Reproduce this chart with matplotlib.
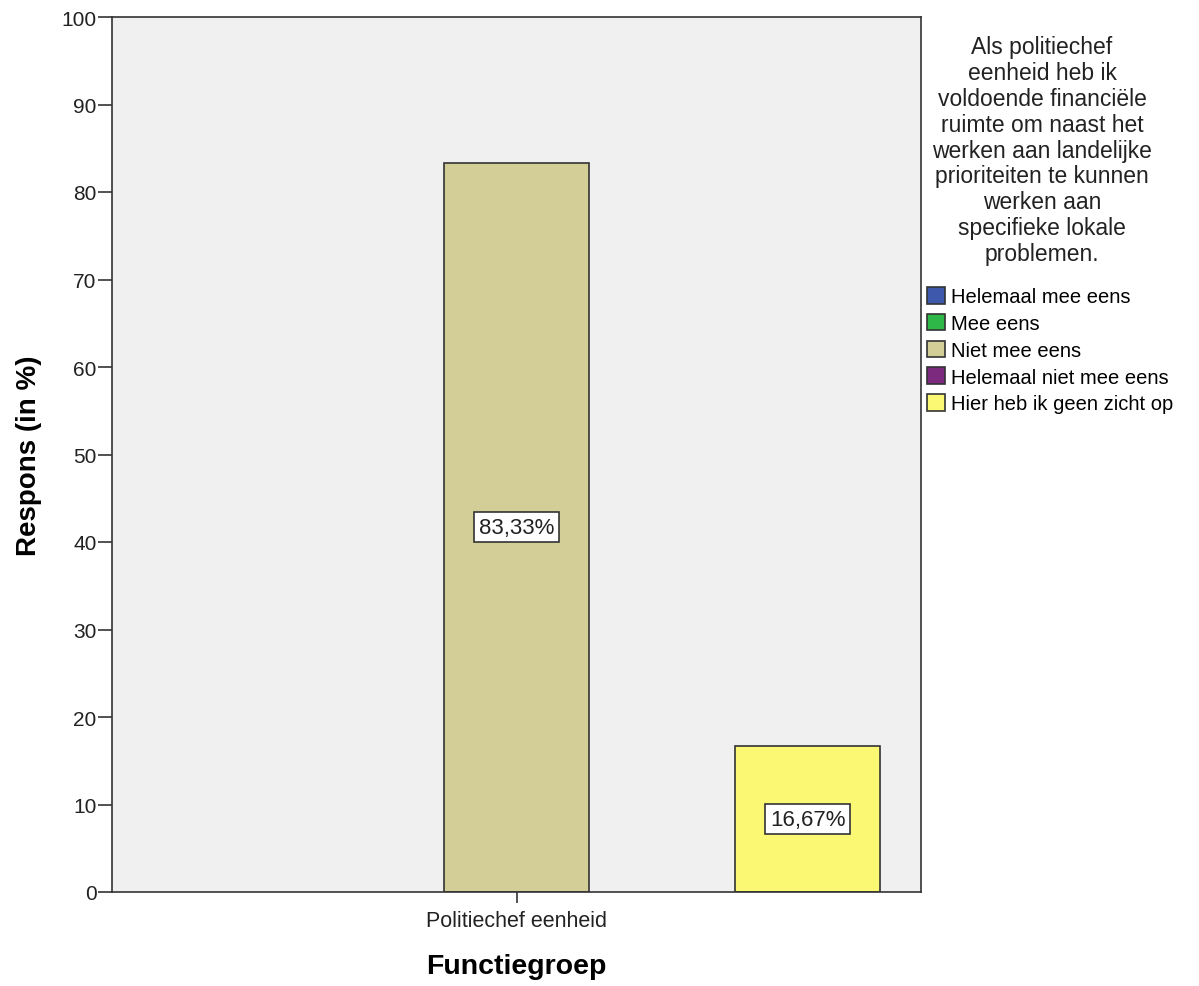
import matplotlib.pyplot as plt
from matplotlib.patches import Patch

plt.rcParams['font.family'] = ['Liberation Sans', 'DejaVu Sans']

categories = ['Helemaal mee eens', 'Mee eens', 'Niet mee eens',
              'Helemaal niet mee eens', 'Hier heb ik geen zicht op']
values = [0, 0, 83.33, 0, 16.67]
colors = ['#3E58AC', '#2EB848', '#D3CE97', '#7B2A7E', '#FBF873']
group = 'Politiechef eenheid'
legend_title = ('Als politiechef\neenheid heb ik\nvoldoende financiële\nruimte om naast het\n'
                'werken aan landelijke\nprioriteiten te kunnen\nwerken aan\nspecifieke lokale\nproblemen.')

fig = plt.figure(figsize=(11.99, 9.87), dpi=100)
ax = fig.add_axes([112 / 1199, 1 - 893 / 987, (921 - 112) / 1199, (893 - 18) / 987])
ax.set_facecolor('#F0F0F0')

offsets = [-2, -1, 0, 1, 2]
for off, v, c in zip(offsets, values, colors):
    if v <= 0:
        continue
    ax.bar(off, v, width=1.0, color=c, edgecolor='#333333', linewidth=1.2, zorder=2)
    ax.text(off, v / 2, f'{v:.2f}'.replace('.', ',') + '%', ha='center', va='center',
            fontsize=16, zorder=3, color='#222222',
            bbox=dict(boxstyle='square,pad=0.2', facecolor='white', edgecolor='#333333', linewidth=1.2))

ax.set_xlim(-2.78, 2.78)
ax.set_ylim(0, 100)
ax.set_yticks(range(0, 101, 10))
ax.set_xticks([0])
ax.set_xticklabels([group])
ax.tick_params(axis='both', labelsize=15, length=10, width=1.2, color='#333333',
               labelcolor='#222222', pad=1)
ax.tick_params(axis='x', labelsize=15.5, length=8, pad=5)
for s in ax.spines.values():
    s.set_color('#333333')
    s.set_linewidth(1.2)

ax.set_ylabel('Respons (in %)', fontsize=20, fontweight='bold', labelpad=14)
ax.set_xlabel('Functiegroep', fontsize=20.5, fontweight='bold', labelpad=16)

fig.text(1042 / 1199, 1 - 36 / 987, legend_title, ha='center', va='top', fontsize=16.5,
         linespacing=1.16, color='#222222')

handles = [Patch(facecolor=c, edgecolor='#333333', linewidth=1.2) for c in colors]
fig.legend(handles, categories, loc='upper left', bbox_to_anchor=(925 / 1199, 1 - 286 / 987),
           frameon=False, fontsize=14.5, handlelength=0.9, handleheight=0.9,
           handletextpad=0.3, labelspacing=0.37, borderpad=0.1, borderaxespad=0)

fig.savefig('out.png', dpi=100)
